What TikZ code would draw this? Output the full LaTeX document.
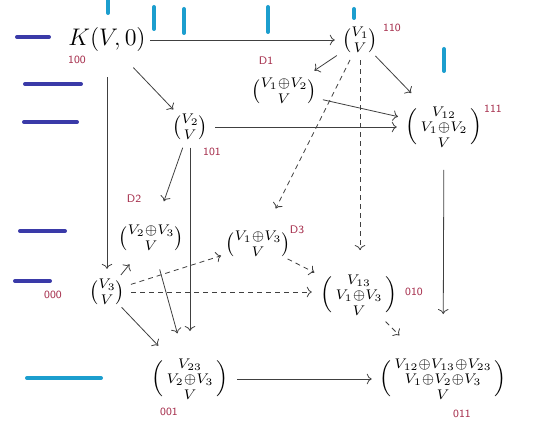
\documentclass[tikz,border=0pt]{standalone}
\usepackage{amsmath,amssymb}
\usetikzlibrary{arrows.meta}

\definecolor{codered}{RGB}{165,45,75}
\definecolor{penblue}{RGB}{58,58,168}
\definecolor{pencyan}{RGB}{28,158,206}

\newcommand{\threerow}[3]{\Big(\begin{smallmatrix}#1\\[0.6pt]#2\\[0.6pt]#3\end{smallmatrix}\Big)}

\begin{document}
\begin{tikzpicture}[x=0.5pt, y=-0.5pt,
  obj/.style={inner sep=0pt},
  code/.style={text=codered, font=\sffamily\fontsize{5.5}{6}\selectfont, inner sep=0pt},
  map/.style={draw=black!75, line width=0.4pt, -{To[length=2.5pt]}},
  dmap/.style={map, dash pattern=on 2.5pt off 2pt},
  bluepen/.style={penblue, line width=2pt, line cap=round},
  cyanpen/.style={pencyan, line width=2pt, line cap=round}]

  \useasboundingbox (0,0) rectangle (540,431);

  % Vertices of the cube
  \node[obj, font=\large] (c100) at (107,40) {$K(V,0)$};
  \node[obj] (c110) at (360,40) {$\tbinom{V_1}{V}$};
  \node[obj] (d1)   at (284,91) {$\tbinom{V_1\oplus V_2}{V}$};
  \node[obj] (c111) at (444,127) {$\threerow{V_{12}}{V_1\oplus V_2}{V}$};
  \node[obj] (c101) at (190,127) {$\tbinom{V_2}{V}$};
  \node[obj] (d2)   at (151,238) {$\tbinom{V_2\oplus V_3}{V}$};
  \node[obj] (d3)   at (258,244) {$\tbinom{V_1\oplus V_3}{V}$};
  \node[obj] (c000) at (107,292) {$\tbinom{V_3}{V}$};
  \node[obj] (c010) at (359,295) {$\threerow{V_{13}}{V_1\oplus V_3}{V}$};
  \node[obj] (c001) at (190,379) {$\threerow{V_{23}}{V_2\oplus V_3}{V}$};
  \node[obj] (c011) at (443,379) {$\threerow{V_{12}\oplus V_{13}\oplus V_{23}}{V_1\oplus V_2\oplus V_3}{V}$};

  % Codes
  \node[code] (t100) at (77,60)  {100};
  \node[code] (t110) at (392,28) {110};
  \node[code] (td1)  at (266,61) {D1};
  \node[code] (t111) at (493,109) {111};
  \node[code] (t101) at (212,152) {101};
  \node[code] (td2)  at (134,199) {D2};
  \node[code] (td3)  at (297,230) {D3};
  \node[code] (t000) at (53,295) {000};
  \node[code] (t010) at (414,292) {010};
  \node[code] (t001) at (169,412) {001};
  \node[code] (t011) at (462,414) {011};

  % Top face
  \draw[map, shorten <=2pt, shorten >=3.5pt] (c100) -- (c110);
  \draw[map, shorten <=10.5pt, shorten >=3pt] (c100) -- (c101);
  \draw[map, shorten <=12.5pt, shorten >=5pt] (c100) -- (c000);
  \draw[map, shorten <=3pt, shorten >=6.5pt] (c110) -- (d1);
  \draw[map, shorten <=2pt, shorten >=9pt] (c110) -- (c111);
  \draw[map, shorten <=3pt, shorten >=3.5pt] (d1) -- (c111);
  \draw[map, shorten <=3.5pt, shorten >=4pt] (c101) -- (c111);

  % Dashed maps
  \draw[dmap, shorten <=3.8pt, shorten >=12.5pt] (c110) -- (d3);
  \draw[dmap, shorten <=3.5pt, shorten >=12pt] (c110) -- (c110 |- c010.north);
  \draw[dmap, shorten <=3pt, shorten >=2pt] (c000) -- (d3);
  \draw[dmap, shorten <=3pt, shorten >=4pt] (c000) -- (c000 -| c010.west);
  \draw[dmap, shorten <=2pt, shorten >=3pt] (d3) -- (c010);
  \draw[dmap, shorten <=4pt, shorten >=16pt] (c010) -- (c011);

  % Remaining maps
  \draw[map, shorten <=4pt, shorten >=12.5pt] (c101) -- (d2);
  \draw[map, shorten <=3.7pt, shorten >=13.5pt] (c101) -- (c001);
  \draw[map, shorten <=11pt, shorten >=22pt] (c111) -- (c011);
  \draw[map, shorten <=2.5pt, shorten >=8.5pt] (c000) -- (d2);
  \draw[map, shorten <=1.5pt, shorten >=8.5pt] (c000) -- (c001);
  \draw[map, shorten <=9.5pt, shorten >=12.8pt] (d2) -- (c001);
  \draw[map, shorten <=4pt, shorten >=3.5pt] (c001) -- (c011);

  % Pen strokes
  \draw[bluepen] (17,37) -- (49,37);
  \draw[bluepen] (25,84) -- (81,84);
  \draw[bluepen] (24,122) -- (77,122);
  \draw[bluepen] (20,231) -- (65,231);
  \draw[bluepen] (15,281) -- (50,281);
  \draw[cyanpen] (108,-2) -- (108,13);
  \draw[cyanpen] (154,7) -- (154,29);
  \draw[cyanpen] (184,9) -- (184,33);
  \draw[cyanpen] (268,7) -- (268,32);
  \draw[cyanpen] (354,9) -- (354,18);
  \draw[cyanpen] (444,49) -- (444,71);
  \draw[cyanpen] (27,378) -- (101,378);

\end{tikzpicture}
\end{document}
